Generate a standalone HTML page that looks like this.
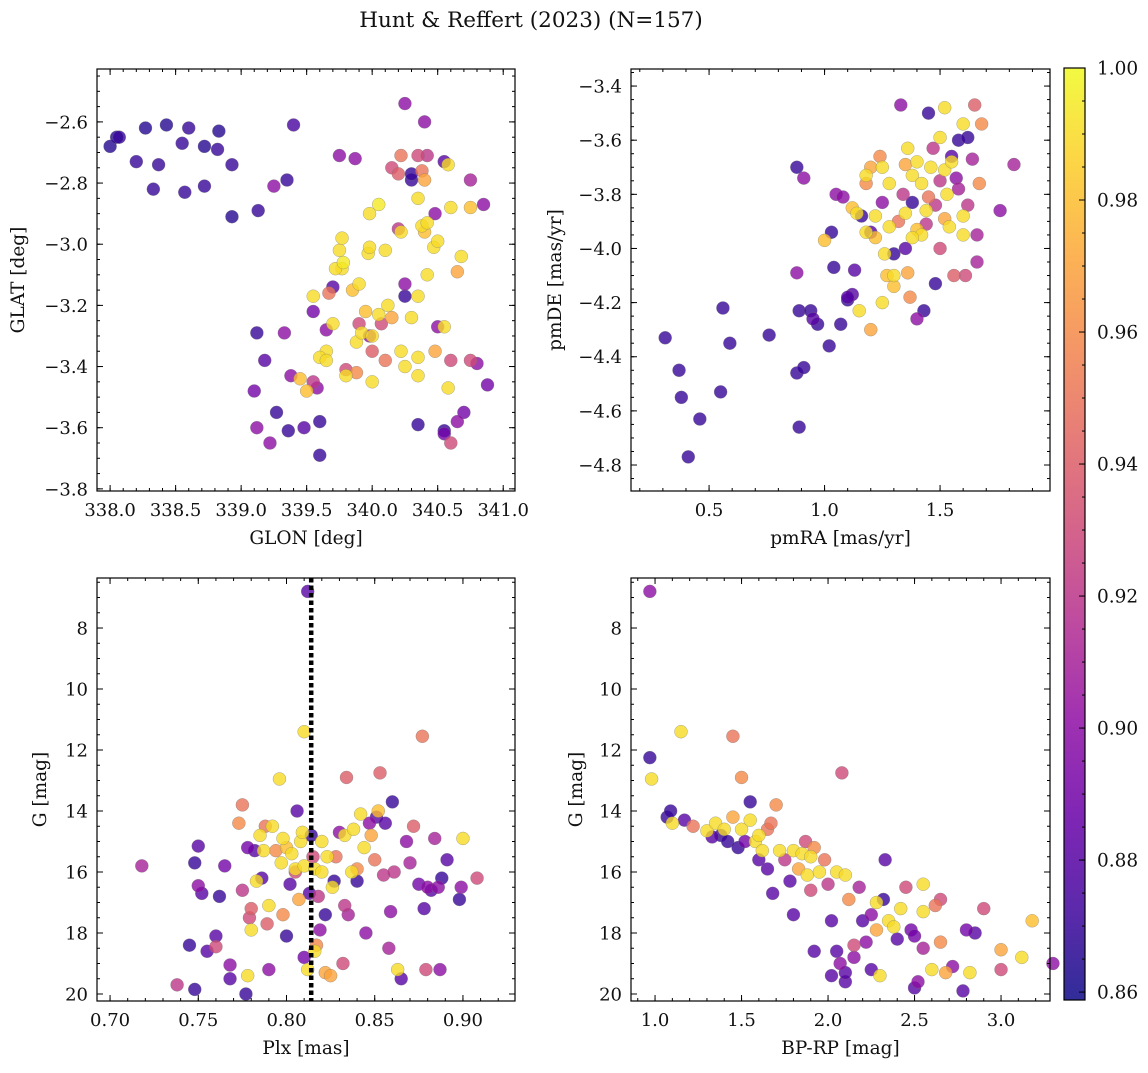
<!DOCTYPE html>
<html><head><meta charset="utf-8">
<style>
body{margin:0;background:#fff;width:1148px;height:1068px;overflow:hidden}
svg text{font-family:"DejaVu Serif","Liberation Serif",serif;fill:#111}
</style></head>
<body>
<svg id="fig" width="1148" height="1068" viewBox="0 0 1148 1068" xmlns="http://www.w3.org/2000/svg">
<defs>
<linearGradient id="cbgrad" x1="0" y1="1" x2="0" y2="0">
<stop offset="0" stop-color="#0d0887"/><stop offset="0.1" stop-color="#41049d"/><stop offset="0.2" stop-color="#6a00a8"/><stop offset="0.3" stop-color="#8f0da4"/><stop offset="0.4" stop-color="#b12a90"/><stop offset="0.5" stop-color="#cc4778"/><stop offset="0.6" stop-color="#e16462"/><stop offset="0.7" stop-color="#f2844b"/><stop offset="0.8" stop-color="#fca636"/><stop offset="0.9" stop-color="#fcce25"/><stop offset="1" stop-color="#f0f921"/>
</linearGradient>
</defs>
<text x="531" y="27" font-size="21.5" text-anchor="middle">Hunt &amp; Reffert (2023) (N=157)</text>
</svg>
<script>
// ---- Panel 1: GLON vs GLAT ----
const glon=[338.0,338.05,338.07,338.2,338.27,338.33,338.37,338.43,338.57,338.55,338.6,338.72,338.72,338.82,338.83,338.93,338.93,339.13,339.35,339.4,339.25,339.12,339.18,339.1,339.12,339.27,339.22,339.36,339.33,339.38,339.48,339.55,339.6,339.55,339.58,339.6,339.65,339.67,339.7,339.75,339.87,339.8,339.9,339.98,340.07,340.3,340.2,340.25,340.25,340.25,340.3,340.35,340.4,340.48,340.5,340.55,340.55,340.6,340.65,340.7,340.75,340.8,340.85,340.88,340.55,340.22,340.2,340.15,340.35,340.38,340.42,340.4,340.6,340.65,340.75,340.1,339.88,340.0,
339.55,339.7,339.65,339.6,339.5,339.45,339.77,339.75,339.77,339.78,339.85,339.88,339.92,339.97,339.98,339.98,340.05,340.1,340.12,340.15,340.22,340.22,340.38,340.42,340.42,340.47,340.5,340.4,340.6,340.55,340.58,340.68,340.75,340.35,340.25,340.35,340.35,340.35,340.3,340.05,340.0,339.95,339.9,340.0,339.65,340.48,340.58,339.8,339.72];
const glat=[-2.68,-2.65,-2.65,-2.73,-2.62,-2.82,-2.74,-2.61,-2.83,-2.67,-2.62,-2.68,-2.81,-2.69,-2.63,-2.74,-2.91,-2.89,-2.79,-2.61,-2.81,-3.29,-3.38,-3.48,-3.6,-3.55,-3.65,-3.61,-3.29,-3.43,-3.6,-3.45,-3.58,-3.22,-3.47,-3.69,-3.28,-3.16,-3.14,-2.71,-2.72,-3.41,-3.26,-3.3,-3.26,-2.79,-2.95,-3.13,-3.17,-2.54,-2.77,-3.59,-2.6,-2.9,-3.27,-3.61,-2.73,-3.65,-3.58,-3.55,-2.79,-3.39,-2.87,-3.46,-3.62,-2.71,-2.77,-2.75,-2.71,-2.76,-2.71,-2.79,-3.38,-3.09,-3.38,-3.38,-3.42,-3.35,
-3.17,-3.26,-3.35,-3.37,-3.48,-3.44,-3.08,-3.02,-2.98,-3.06,-3.15,-3.32,-3.29,-3.03,-2.9,-3.01,-2.87,-3.02,-3.2,-3.24,-3.35,-2.96,-2.94,-2.93,-3.1,-3.01,-2.99,-2.96,-2.88,-3.27,-3.47,-3.04,-2.88,-3.37,-3.4,-3.43,-2.85,-3.17,-3.24,-3.23,-3.3,-3.22,-3.13,-3.45,-3.38,-3.35,-2.74,-3.43,-3.08];
const prob1=[.865,.865,.87,.87,.865,.87,.87,.865,.87,.87,.87,.865,.87,.87,.865,.87,.865,.87,.87,.875,.9,.87,.88,.89,.9,.87,.9,.87,.9,.9,.88,.92,.87,.89,.9,.87,.9,.95,.88,.9,.9,.93,.93,.9,.93,.87,.92,.9,.87,.9,.87,.87,.9,.9,.9,.87,.88,.93,.9,.89,.91,.9,.9,.89,.89,.95,.94,.93,.93,.95,.92,.97,.93,.97,.93,.95,.96,.94,
.99,.99,.99,.99,.98,.98,.99,.99,.99,.995,.98,.99,.99,.99,.99,.99,.995,.99,.99,.97,.99,.99,.99,.99,.99,.99,.99,.98,.99,.99,.99,.99,.98,.99,.99,.99,.99,.99,.99,.99,.99,.98,.99,.99,.99,.97,.99,.99,.99];
const ticks1x=["338.0","338.5","339.0","339.5","340.0","340.5","341.0"];
const ticks1y=["−3.8","−3.6","−3.4","−3.2","−3.0","−2.8","−2.6"];

// ---- Panel 2: pmRA vs pmDE ----
const pmra=[0.31,0.37,0.38,0.41,0.46,0.56,0.55,0.59,0.76,0.88,0.88,0.91,0.88,0.91,0.89,0.89,0.94,0.95,0.97,
1.0,1.02,1.04,1.03,1.05,1.07,1.08,1.1,1.12,1.13,1.12,1.14,1.16,1.18,1.15,1.18,1.18,1.2,1.2,1.22,1.22,1.24,1.25,1.26,1.27,1.28,1.28,1.3,1.3,1.32,1.33,1.35,1.35,1.36,1.36,1.37,1.38,1.38,1.4,1.4,1.42,1.42,1.43,1.44,1.45,1.45,1.47,1.48,1.48,1.5,1.5,1.5,1.52,1.52,1.53,1.54,1.55,1.55,1.56,1.57,1.58,1.6,1.6,1.61,1.62,1.62,1.64,1.65,1.66,1.66,1.67,1.68,1.76,1.82,1.2,1.25,1.3,1.1,1.44,1.46,1.34,1.38,1.52,1.58,1.35,1.25,1.6,1.4];
const pmde=[-4.33,-4.45,-4.55,-4.77,-4.63,-4.22,-4.53,-4.35,-4.32,-4.09,-3.7,-3.74,-4.46,-4.44,-4.66,-4.23,-4.23,-4.26,-4.28,
-3.97,-4.36,-4.07,-3.94,-3.8,-4.28,-3.81,-4.19,-4.17,-4.08,-3.85,-3.87,-3.88,-3.94,-4.23,-3.76,-3.73,-3.7,-4.3,-3.96,-3.88,-3.66,-4.2,-4.02,-4.1,-3.76,-3.92,-4.14,-4.1,-3.9,-3.47,-3.69,-3.87,-3.63,-4.09,-4.18,-3.73,-3.83,-3.93,-4.26,-3.76,-3.95,-4.23,-3.91,-3.81,-3.5,-3.63,-3.84,-4.13,-3.59,-3.75,-4.0,-3.48,-3.71,-3.8,-3.92,-3.66,-3.68,-4.1,-3.74,-3.6,-3.54,-3.88,-4.1,-3.84,-3.59,-3.67,-3.47,-3.95,-4.05,-3.76,-3.54,-3.86,-3.69,-3.94,-3.7,-4.02,-4.18,-3.86,-3.7,-3.8,-3.96,-3.89,-3.78,-4.0,-3.83,-3.95,-3.68];
const prob2=[.87,.87,.87,.87,.87,.87,.87,.87,.87,.9,.87,.9,.87,.87,.87,.87,.87,.88,.87,
.98,.87,.87,.87,.9,.87,.9,.87,.88,.88,.98,.99,.87,.99,.99,.96,.99,.97,.97,.98,.99,.96,.99,.99,.98,.99,.99,.98,.99,.95,.9,.97,.99,.99,.97,.96,.99,.87,.98,.9,.99,.99,.87,.92,.95,.87,.92,.92,.87,.99,.92,.93,.99,.99,.99,.99,.88,.99,.94,.9,.87,.99,.99,.93,.92,.87,.91,.94,.91,.91,.96,.96,.9,.91,.88,.99,.87,.88,.99,.99,.92,.99,.97,.91,.88,.9,.99,.99];
const ticks2x=["0.5","1.0","1.5"];
const ticks2y=["−4.8","−4.6","−4.4","−4.2","−4.0","−3.8","−3.6","−3.4"];

// ---- Panel 3: Plx vs G ----
const plx=[0.718,0.738,0.748,0.748,0.750,0.75,0.752,0.755,0.745,0.762,0.76,0.76,0.765,0.768,0.768,0.773,0.775,0.775,0.777,0.778,0.778,0.779,0.78,0.78,0.782,0.783,0.785,0.786,0.787,0.788,0.789,0.79,0.79,0.792,0.794,0.796,0.797,0.798,0.798,0.8,0.8,0.802,0.803,0.805,0.805,0.806,0.807,0.808,0.809,0.81,0.81,0.81,0.812,0.812,0.813,0.814,0.815,0.816,0.816,0.817,0.818,0.819,0.82,0.82,0.822,0.822,0.823,0.825,0.826,0.827,0.828,0.83,0.832,0.833,0.833,0.834,0.835,0.837,0.838,0.84,0.84,0.842,0.844,0.845,0.847,0.848,0.85,0.851,0.852,0.853,0.855,0.856,0.858,0.859,0.86,0.861,0.863,0.865,0.868,0.87,0.872,0.875,0.877,0.878,0.879,0.88,0.882,0.884,0.886,0.887,0.888,0.891,0.898,0.899,0.9,0.908];
const gmag3=[15.8,19.7,19.85,15.7,15.15,16.45,16.7,18.6,18.4,16.8,18.1,18.45,15.8,19.05,19.5,14.4,13.8,16.6,20.0,15.2,19.4,17.5,17.9,17.2,15.3,16.3,14.8,16.2,15.3,14.5,17.7,19.2,17.1,14.5,15.3,12.95,15.7,14.9,17.4,15.2,18.1,16.4,15.4,15.9,16.0,14.0,16.9,15.0,14.7,11.4,15.8,18.8,6.8,19.2,16.7,14.8,15.5,18.6,15.9,18.4,16.8,17.9,15.0,16.0,17.4,19.3,15.5,19.4,16.5,16.3,15.5,14.7,19.0,14.8,17.1,12.9,17.4,16.0,14.6,15.9,16.3,14.1,15.2,18.0,14.4,14.8,15.6,14.2,14.0,12.75,16.1,14.4,18.5,17.3,13.7,16.0,19.2,19.5,15.0,15.7,14.5,16.4,11.55,17.2,19.2,16.5,16.6,14.9,16.5,19.2,16.2,15.6,16.9,16.5,14.9,16.2];
const prob3=[.91,.92,.87,.87,.88,.9,.88,.88,.87,.87,.88,.93,.89,.9,.88,.96,.95,.92,.87,.89,.99,.93,.99,.94,.88,.99,.99,.88,.99,.95,.94,.9,.99,.99,.96,.99,.99,.99,.96,.98,.87,.88,.99,.99,.93,.88,.97,.99,.99,.99,.99,.89,.88,.99,.88,.87,.93,.99,.99,.96,.92,.9,.99,.99,.87,.97,.99,.97,.99,.87,.95,.9,.93,.99,.92,.94,.91,.99,.99,.96,.87,.99,.99,.9,.9,.97,.95,.88,.98,.94,.92,.88,.91,.9,.87,.92,.99,.88,.9,.91,.94,.89,.95,.88,.93,.9,.88,.91,.9,.9,.87,.88,.87,.9,.99,.93];
const plxLine=[0.814];
const ticks3x=["0.70","0.75","0.80","0.85","0.90"];
const ticks3y=["8","10","12","14","16","18","20"];

// ---- Panel 4: BP-RP vs G ----
const bprp=[0.97,0.97,0.98,1.07,1.09,1.1,1.15,1.17,1.22,1.3,1.33,1.35,1.38,1.4,1.42,1.45,1.45,1.48,1.5,1.5,1.52,1.55,1.55,1.58,1.6,1.6,1.62,1.65,1.65,1.67,1.68,1.7,1.72,1.75,1.78,1.8,1.8,1.83,1.85,1.87,1.88,1.9,1.9,1.92,1.95,1.98,2.0,2.02,2.02,2.05,2.05,2.07,2.08,2.1,2.1,2.12,2.15,2.15,2.18,2.2,2.22,2.25,2.25,2.28,2.28,2.3,2.32,2.33,2.35,2.38,2.4,2.42,2.45,2.48,2.5,2.52,2.55,2.55,2.55,2.6,2.62,2.65,2.65,2.68,2.72,2.78,2.8,2.82,2.85,2.9,3.0,3.0,3.12,3.18,3.3,2.5,1.92,2.1];
const gmag4=[6.8,12.25,12.95,14.2,14.0,14.4,11.4,14.3,14.5,14.65,14.85,14.4,14.8,14.6,15.0,11.55,14.2,15.2,12.9,14.6,15.0,13.7,14.3,15.0,15.6,14.8,15.3,14.6,15.9,14.4,16.7,13.8,15.3,15.6,16.3,15.3,17.4,15.9,15.4,15.0,16.1,15.5,16.6,15.2,16.0,15.6,16.4,17.6,19.4,18.6,16.0,19.0,12.75,16.1,19.6,16.9,18.8,18.4,16.5,17.6,18.3,17.4,19.2,17.9,17.0,19.4,16.9,15.6,17.6,17.8,18.2,17.2,16.5,17.9,18.1,19.6,17.3,18.5,16.4,19.2,17.1,18.3,16.9,19.3,19.1,19.9,17.9,19.3,18.0,17.2,18.55,19.2,18.8,17.6,19.0,19.8,18.6,19.3];
const prob4=[.9,.87,.99,.87,.87,.99,.99,.88,.95,.99,.88,.99,.87,.99,.87,.95,.97,.87,.96,.99,.89,.87,.99,.99,.88,.99,.99,.95,.88,.95,.88,.96,.99,.92,.88,.99,.88,.97,.99,.93,.99,.99,.93,.96,.99,.95,.92,.88,.88,.88,.99,.9,.93,.99,.88,.96,.9,.93,.91,.88,.9,.9,.88,.97,.99,.99,.87,.88,.99,.99,.88,.99,.93,.89,.89,.9,.99,.91,.99,.99,.95,.96,.93,.97,.9,.88,.89,.99,.88,.93,.97,.93,.99,.98,.9,.88,.88,.88];
const ticks4x=["1.0","1.5","2.0","2.5","3.0"];
const ticks4y=ticks3y;

const cbTicks=["0.86","0.88","0.90","0.92","0.94","0.96","0.98","1.00"];

const NS="http://www.w3.org/2000/svg";
const svg=document.getElementById('fig');
function mk(tag,attrs,parent){const e=document.createElementNS(NS,tag);for(const k in attrs)e.setAttribute(k,attrs[k]);(parent||svg).appendChild(e);return e;}
const PMIN=0.8588,PMAX=1.0;
const stops=["#0d0887","#41049d","#6a00a8","#8f0da4","#b12a90","#cc4778","#e16462","#f2844b","#fca636","#fcce25","#f0f921"];
function hex(h){return [1,3,5].map(i=>parseInt(h.substr(i,2),16));}
function plasma(p){let t=(p-PMIN)/(PMAX-PMIN);t=Math.max(0,Math.min(1,t));const s=t*10,i=Math.min(9,Math.floor(s)),f=s-i;const a=hex(stops[i]),b=hex(stops[i+1]);return 'rgb('+a.map((v,k)=>Math.round(v+(b[k]-v)*f)).join(',')+')';}

function panel(cfg){
  const g=mk('g',{});
  
  
  const L=cfg.L,R=cfg.R,T=cfg.T,B=cfg.B;
  const sx=v=>L+(v-cfg.x0)/(cfg.x1-cfg.x0)*(R-L);
  const sy=v=>cfg.yinv? T+(v-cfg.y0)/(cfg.y1-cfg.y0)*(B-T) : B-(v-cfg.y0)/(cfg.y1-cfg.y0)*(B-T);
  const pg=mk('g',{},g);
  
  
  const idx=cfg.xs.map((_,i)=>i).sort((a,b)=>cfg.c[a]-cfg.c[b]);
  idx.forEach(i=>{
    const c=mk('circle',{cx:sx(cfg.xs[i]),cy:sy(cfg.ys[i]),r:6.5,fill:plasma(cfg.c[i]),'fill-opacity':0.8,stroke:'#777','stroke-width':0.5,'stroke-opacity':0.6},pg);
    
    
  });
  if(cfg.vline){cfg.vline.forEach(v=>{const l=mk('line',{x1:sx(v),x2:sx(v),y1:T,y2:B,stroke:'#000','stroke-width':4.5,'stroke-dasharray':'4.5,3'},g);
    
    });}
  const fr=mk('rect',{x:L,y:T,width:R-L,height:B-T,fill:'none',stroke:'#000','stroke-width':1.2},g);
  
  
  function tk(x1,y1,x2,y2){mk('line',{x1,y1,x2,y2,stroke:'#000','stroke-width':1},g);}
  for(let v=Math.ceil(cfg.x0/cfg.xmin)*cfg.xmin;v<=cfg.x1;v+=cfg.xmin){const x=sx(v);tk(x,B,x,B-3);tk(x,T,x,T+3);}
  for(let v=Math.ceil(Math.min(cfg.y0,cfg.y1)/cfg.ymin)*cfg.ymin;v<=Math.max(cfg.y0,cfg.y1);v+=cfg.ymin){const y=sy(v);tk(L,y,L+3,y);tk(R,y,R-3,y);}
  cfg.tx.forEach(s=>{const v=parseFloat(s.replace('−','-'));const x=sx(v);tk(x,B,x,B-6);tk(x,T,x,T+6);
    const t=mk('text',{x:x,y:B+25,'font-size':18,'text-anchor':'middle'},g);t.textContent=s;
    
    });
  cfg.ty.forEach(s=>{const v=parseFloat(s.replace('−','-'));const y=sy(v);tk(L,y,L+6,y);tk(R,y,R-6,y);
    const t=mk('text',{x:L-9,y:y+6.5,'font-size':18,'text-anchor':'end'},g);t.textContent=s;
    
    });
  const xl=mk('text',{x:(L+R)/2,y:B+53,'font-size':18.5,'text-anchor':'middle'},g);xl.textContent=cfg.xlabel;
  
  
  const yl=mk('text',{x:cfg.ylx,y:(T+B)/2,'font-size':18.5,'text-anchor':'middle',transform:'rotate(-90 '+cfg.ylx+' '+((T+B)/2)+')'},g);yl.textContent=cfg.ylabel;
  
  
}

panel({name:'glon-glat-panel',L:97,R:515,T:69,B:491,x0:337.90,x1:341.09,y0:-3.807,y1:-2.427,yinv:false,xmin:0.1,ymin:0.05,xs:glon,ys:glat,c:prob1,tx:ticks1x,ty:ticks1y,xlabel:'GLON [deg]',ylabel:'GLAT [deg]',ylx:24});
panel({name:'pm-panel',L:631,R:1050,T:69,B:491,x0:0.162,x1:1.976,y0:-4.896,y1:-3.337,yinv:false,xmin:0.1,ymin:0.05,xs:pmra,ys:pmde,c:prob2,tx:ticks2x,ty:ticks2y,xlabel:'pmRA [mas/yr]',ylabel:'pmDE [mas/yr]',ylx:561});
panel({name:'plx-g-panel',L:97,R:515,T:578,B:1001,x0:0.6926,x1:0.9295,y0:6.36,y1:20.23,yinv:true,xmin:0.01,ymin:0.5,xs:plx,ys:gmag3,c:prob3,tx:ticks3x,ty:ticks3y,xlabel:'Plx [mas]',ylabel:'G [mag]',ylx:46,vline:plxLine});
panel({name:'cmd-panel',L:631,R:1050,T:578,B:1001,x0:0.861,x1:3.283,y0:6.36,y1:20.23,yinv:true,xmin:0.1,ymin:0.5,xs:bprp,ys:gmag4,c:prob4,tx:ticks4x,ty:ticks4y,xlabel:'BP-RP [mag]',ylabel:'G [mag]',ylx:582});

const cb=mk('g',{});


const CT=68,CBt=1000,CL=1064,CR=1085;
mk('rect',{x:CL,y:CT,width:CR-CL,height:CBt-CT,fill:'url(#cbgrad)','fill-opacity':0.85,stroke:'#000','stroke-width':1.2},cb);
const cy=v=>CBt-(v-PMIN)/(PMAX-PMIN)*(CBt-CT);
for(let v=0.86;v<=1.0001;v+=0.005){mk('line',{x1:CR,x2:CR-3,y1:cy(v),y2:cy(v),stroke:'#000','stroke-width':1},cb);}
cbTicks.forEach(s=>{const v=parseFloat(s);mk('line',{x1:CR,x2:CR-6,y1:cy(v),y2:cy(v),stroke:'#000','stroke-width':1},cb);
  const t=mk('text',{x:CR+12,y:cy(v)+6.5,'font-size':18.5},cb);t.textContent=s;
  
  });
</script>
</body></html>
